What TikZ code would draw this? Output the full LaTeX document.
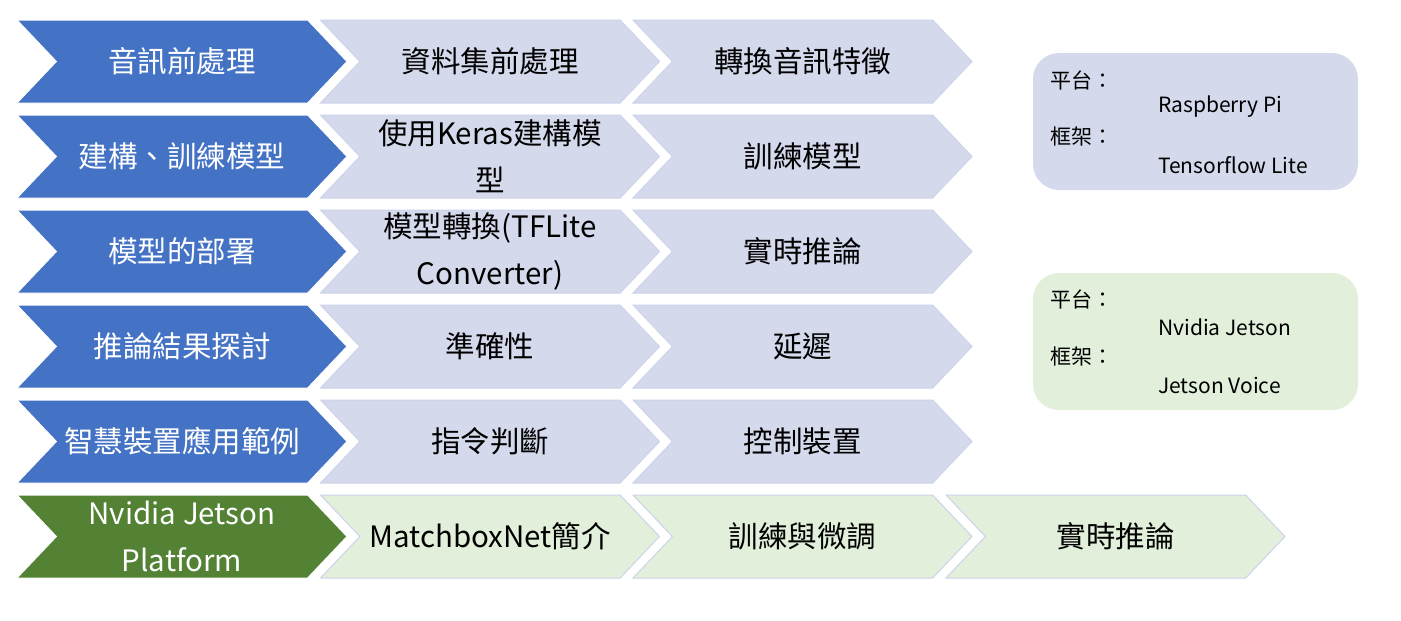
\documentclass[tikz,border=0pt]{standalone}
\usepackage{fontspec}
\setmainfont{Noto Sans CJK TC}
\usetikzlibrary{shapes.symbols, positioning}
\definecolor{stepblue}{HTML}{4472C4}
\definecolor{steplav}{HTML}{D5D9EC}
\definecolor{stepgreen}{HTML}{548235}
\definecolor{steplime}{HTML}{E2EFDA}
\definecolor{stepedge}{HTML}{CDD3EA}
\tikzset{
  chev/.style={signal, signal from=west, signal to=east, signal pointer angle=93,
    minimum height=83pt, inner sep=0pt, align=center,
    font=\fontsize{29.5}{47}\selectfont},
  headchev/.style={chev, fill=stepblue, draw=white, line width=1pt, text=white, minimum width=330pt},
  subchev/.style={chev, fill=steplav, draw=stepedge, line width=1pt, minimum width=339pt},
  infobox/.style={rounded corners=26pt, minimum width=325pt, minimum height=137pt},
  infotext/.style={anchor=west, inner sep=0pt, font=\fontsize{21}{24}\selectfont}
}
\begin{document}
\begin{tikzpicture}[x=1pt, y=-1pt]
\useasboundingbox (0,0) rectangle (1401,621);
\foreach \i/\a/\b/\c in {1/音訊前處理/資料集前處理/轉換音訊特徵,
    2/{建構、訓練模型}/{使用Keras建構模\\型}/訓練模型,
    3/模型的部署/{模型轉換(TFLite\\Converter)}/實時推論,
    4/推論結果探討/準確性/延遲,
    5/智慧裝置應用範例/指令判斷/控制裝置}
{
  \node[headchev] (h\i) at (182, {61.5+95*(\i-1)}) {\a};
  \node[subchev] (s\i) at (490, {61.5+95*(\i-1)}) {\b};
  \node[subchev] (t\i) at (802.5, {61.5+95*(\i-1)}) {\c};
}
\node[headchev, fill=stepgreen] (h6) at (182, 536.5) {Nvidia Jetson\\Platform};
\node[subchev, fill=steplime] (s6) at (490, 536.5) {MatchboxNet簡介};
\node[subchev, fill=steplime] (t6) at (802.5, 536.5) {訓練與微調};
\node[subchev, fill=steplime] (u6) at (1115.5, 536.5) {實時推論};

\node[infobox, fill=steplav] (rpi) at (1195.5, 121.5) {};
\node[infotext] (rpiplat) at (1050, 80) {平台：};
\node[infotext] (rpiplatv) at (1158, 107) {Raspberry Pi};
\node[infotext] (rpifw) at (1050, 137) {框架：};
\node[infotext] (rpifwv) at (1158, 165) {Tensorflow Lite};

\node[infobox, fill=steplime] (jet) at (1195.5, 341.5) {};
\node[infotext] (jetplat) at (1050, 299) {平台：};
\node[infotext] (jetplatv) at (1158, 327) {Nvidia Jetson};
\node[infotext] (jetfw) at (1050, 357) {框架：};
\node[infotext] (jetfwv) at (1158, 385) {Jetson Voice};
\end{tikzpicture}
\end{document}
